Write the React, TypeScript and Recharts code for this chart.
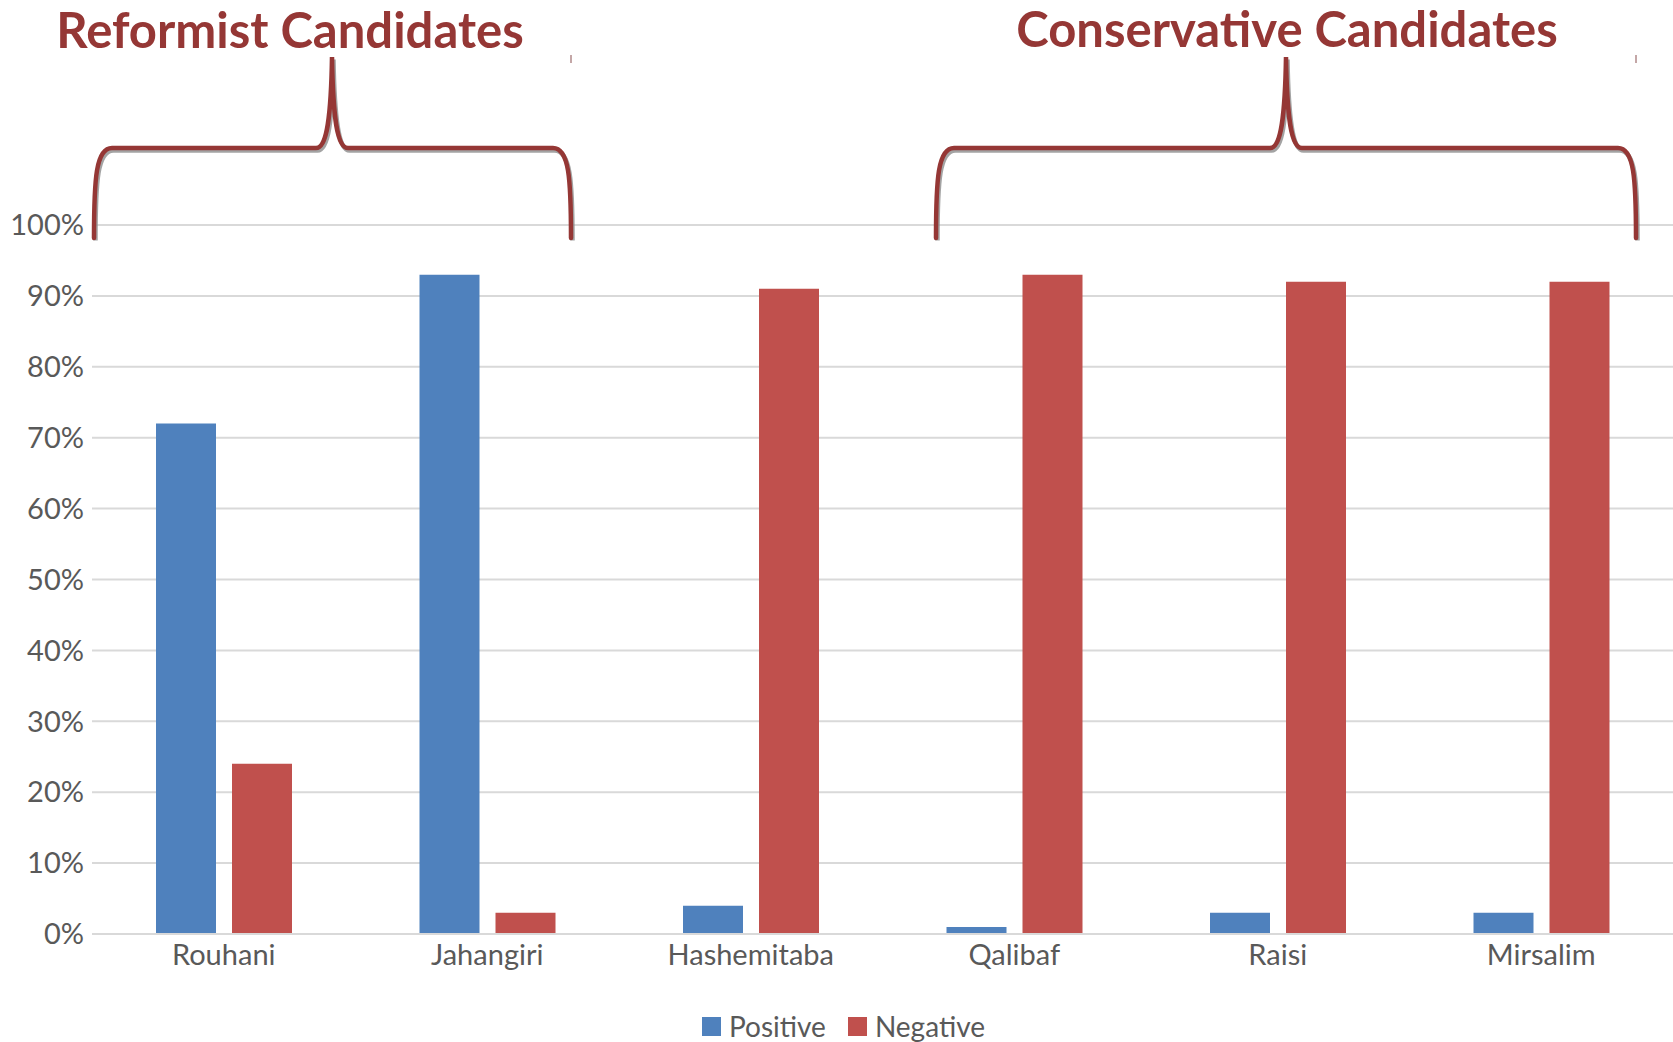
import {
  BarChart,
  Bar,
  XAxis,
  YAxis,
  CartesianGrid,
  Legend,
} from "recharts";

const candidates = [
  "Rouhani",
  "Jahangiri",
  "Hashemitaba",
  "Qalibaf",
  "Raisi",
  "Mirsalim",
];

const positive = [72, 93, 4, 1, 3, 3];
const negative = [24, 3, 91, 93, 92, 92];

const yTicks = [0, 10, 20, 30, 40, 50, 60, 70, 80, 90, 100];

const BLUE = "#4F81BD";
const RED = "#C0504D";
const DARK_RED = "#953735";
const TEXT = "#595959";
const GRID = "#D9D9D9";
const FONT = "Lato, 'Open Sans', sans-serif";

const data = candidates.map((name, i) => ({
  name,
  Positive: positive[i],
  Negative: negative[i],
}));

function ChartLegend() {
  const items = [
    { label: "Positive", color: BLUE },
    { label: "Negative", color: RED },
  ];
  return (
    <div
      style={{
        height: 32,
        display: "flex",
        justifyContent: "center",
        alignItems: "center",
        gap: 22,
        paddingLeft: 14,
        fontFamily: FONT,
        fontSize: 28,
        color: TEXT,
      }}
    >
      {items.map((item) => (
        <div
          key={item.label}
          style={{ display: "flex", alignItems: "center", gap: 8 }}
        >
          <div
            style={{ width: 19, height: 19, background: item.color }}
          />
          <span>{item.label}</span>
        </div>
      ))}
    </div>
  );
}

// curly brace opening downwards, tip at top centre
function brace(left: number, right: number, mid: number) {
  const top = 57;
  const arm = 148;
  const bottom = 238;
  return [
    `M${left},${bottom}`,
    `C${left},${arm + 30} ${left + 2},${arm} ${left + 18},${arm}`,
    `L${mid - 16},${arm}`,
    `C${mid - 5},${arm} ${mid - 1},${arm - 30} ${mid},${top}`,
    `C${mid + 1},${arm - 30} ${mid + 5},${arm} ${mid + 16},${arm}`,
    `L${right - 18},${arm}`,
    `C${right - 2},${arm} ${right},${arm + 30} ${right},${bottom}`,
  ].join(" ");
}

function Annotations() {
  const groups = [
    { title: "Reformist Candidates", left: 94, right: 571, mid: 332, tx: 290, ty: 48 },
    { title: "Conservative Candidates", left: 936, right: 1636, mid: 1286, tx: 1287, ty: 47 },
  ];
  return (
    <svg
      width={1673}
      height={1042}
      style={{ position: "absolute", left: 0, top: 0, pointerEvents: "none" }}
    >
      {groups.map((g) => (
        <g key={g.title}>
          <text
            x={g.tx}
            y={g.ty}
            textAnchor="middle"
            fontFamily={FONT}
            fontWeight={700}
            fontSize={49}
            fill={DARK_RED}
          >
            {g.title}
          </text>
          <path
            d={brace(g.left, g.right, g.mid)}
            fill="none"
            stroke="#8c8c8c"
            strokeOpacity={0.8}
            strokeWidth={4.5}
            transform="translate(1.5,2.5)"
          />
          <path
            d={brace(g.left, g.right, g.mid)}
            fill="none"
            stroke={DARK_RED}
            strokeWidth={4.5}
            strokeLinecap="round"
          />
          <line
            x1={g.right}
            x2={g.right}
            y1={55}
            y2={63}
            stroke="#b08a8a"
            strokeWidth={1.5}
          />
        </g>
      ))}
    </svg>
  );
}

export default function App() {
  return (
    <div
      style={{
        position: "absolute",
        left: 0,
        top: 0,
        width: 1673,
        height: 1042,
        background: "#fff",
        overflow: "hidden",
      }}
    >
      <BarChart
        width={1673}
        height={1042}
        data={data}
        margin={{ top: 225, right: 0, bottom: 0, left: 0 }}
        barCategoryGap={64}
        barGap={16}
      >
        <CartesianGrid
          vertical={false}
          stroke={GRID}
          strokeWidth={2}
        />
        <XAxis
          dataKey="name"
          height={76}
          axisLine={{ stroke: GRID, strokeWidth: 2 }}
          tickLine={false}
          tickMargin={4}
          tick={{ fill: TEXT, fontSize: 29, fontFamily: FONT }}
        />
        <YAxis
          width={92}
          domain={[0, 100]}
          ticks={yTicks}
          interval={0}
          axisLine={false}
          tickLine={false}
          tickFormatter={(v) => `${v}%`}
          tick={{ fill: TEXT, fontSize: 29, fontFamily: FONT }}
        />
        <Legend verticalAlign="bottom" content={<ChartLegend />} />
        <Bar dataKey="Positive" fill={BLUE} isAnimationActive={false} />
        <Bar dataKey="Negative" fill={RED} isAnimationActive={false} />
      </BarChart>
      <Annotations />
    </div>
  );
}
